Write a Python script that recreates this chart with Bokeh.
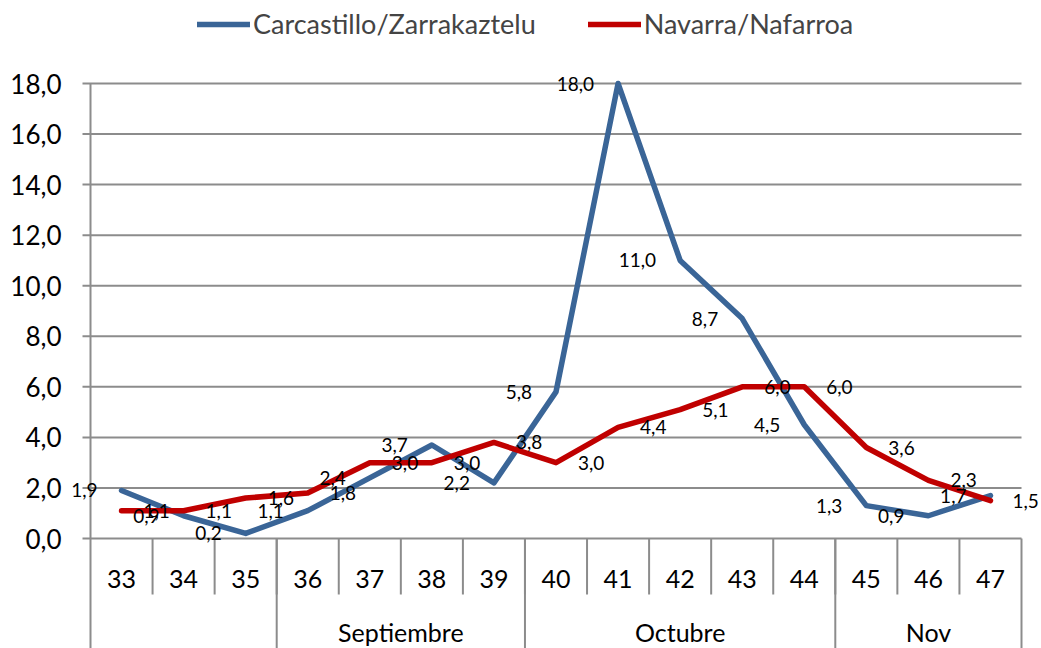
from bokeh.plotting import figure
from bokeh.models import ColumnDataSource, Range1d, FixedTicker, Legend, LegendItem
from bokeh.core.properties import value
from bokeh.embed import file_html
from bokeh.resources import INLINE

# ---------------- data ----------------
weeks = ["33", "34", "35", "36", "37", "38", "39", "40", "41", "42", "43", "44", "45", "46", "47"]
carcastillo = [1.9, 0.9, 0.2, 1.1, 2.4, 3.7, 2.2, 5.8, 18.0, 11.0, 8.7, 4.5, 1.3, 0.9, 1.7]
navarra = [1.1, 1.1, 1.6, 1.8, 3.0, 3.0, 3.8, 3.0, 4.4, 5.1, 6.0, 6.0, 3.6, 2.3, 1.5]
groups = ["", "Septiembre", "Octubre", "Nov"]
group_sizes = [3, 4, 5, 3]
y_ticks = [0, 2, 4, 6, 8, 10, 12, 14, 16, 18]
y_tick_labels = ["0,0", "2,0", "4,0", "6,0", "8,0", "10,0", "12,0", "14,0", "16,0", "18,0"]
series_names = ["Carcastillo/Zarrakaztelu", "Navarra/Nafarroa"]

# ---------------- layout (canvas pixels) ----------------
W, H = 1041, 648
FRAME_L = 70          # frame left edge
X0_PX, X1_PX = 90, 1021   # x=0 and x=n positions
Y0_PX, YT_PX = 538, 83    # y=0 and y=18 positions
CAT_LABEL_PX = 578
DIV1_PX = 594
GROUP_LABEL_PX = 631
TICK_OUT = 8

n = len(weeks)
ppx = (X1_PX - X0_PX) / n
ppy = (Y0_PX - YT_PX) / (y_ticks[-1] - y_ticks[0])
x_start = -(X0_PX - FRAME_L) / ppx
x_end = n + (W - X1_PX) / ppx
y_end = y_ticks[-1] + YT_PX / ppy
y_start = -(H - Y0_PX) / ppy

def ydown(px):
    return -(px - Y0_PX) / ppy

BLUE = "#3A6597"
RED = "#C00000"
GRID = "#8C8C8C"
FONT = "Lato"

p = figure(width=W, height=H, output_backend="svg", toolbar_location=None,
           x_range=Range1d(x_start, x_end), y_range=Range1d(y_start, y_end),
           min_border_left=FRAME_L, min_border_right=0, min_border_top=0, min_border_bottom=0)
p.outline_line_color = None
p.xaxis.visible = False
p.xgrid.visible = False
p.ygrid.visible = False
p.background_fill_color = "white"
p.border_fill_color = "white"

# y axis labels
p.yaxis.ticker = FixedTicker(ticks=y_ticks)
p.yaxis.major_label_overrides = {t: l for t, l in zip(y_ticks, y_tick_labels)}
p.yaxis.axis_line_color = None
p.yaxis.major_tick_line_color = None
p.yaxis.minor_tick_line_color = None
p.yaxis.major_tick_out = 0
p.yaxis.major_tick_in = 0
p.yaxis.major_label_standoff = 9
p.yaxis.major_label_text_font = FONT
p.yaxis.major_label_text_font_size = "26px"
p.yaxis.major_label_text_color = "black"

# gridlines with outside tick
tick_x = -TICK_OUT / ppx
p.segment(x0=[tick_x] * len(y_ticks), y0=y_ticks, x1=[n] * len(y_ticks), y1=y_ticks,
          line_color=GRID, line_width=2)
# y axis line
p.segment(x0=[0], y0=[0], x1=[0], y1=[y_ticks[-1]], line_color=GRID, line_width=2)

# category dividers (level 1)
inner = list(range(1, n))
p.segment(x0=inner, y0=[0] * len(inner), x1=inner, y1=[ydown(DIV1_PX)] * len(inner),
          line_color=GRID, line_width=2)
# group dividers (full height)
bounds = [0]
for s in group_sizes:
    bounds.append(bounds[-1] + s)
p.segment(x0=bounds, y0=[0] * len(bounds), x1=bounds, y1=[y_start] * len(bounds),
          line_color=GRID, line_width=2)

# category labels
xs = [i + 0.5 for i in range(n)]
p.text(x=xs, y=[ydown(CAT_LABEL_PX)] * n, text=weeks, text_align="center",
       text_baseline="middle", text_font=value(FONT), text_font_size="25px", text_color="black")
# group labels
gx = [(bounds[i] + bounds[i + 1]) / 2 for i in range(len(groups))]
p.text(x=gx, y=[ydown(GROUP_LABEL_PX)] * len(groups), text=groups, text_align="center",
       text_baseline="middle", text_font=value(FONT), text_font_size="25px", text_color="black")

# series
src = ColumnDataSource(dict(
    x=xs, c=carcastillo, nv=navarra,
    cl=[f"{v:.1f}".replace(".", ",") for v in carcastillo],
    nl=[f"{v:.1f}".replace(".", ",") for v in navarra],
))
r1 = p.line("x", "c", source=src, line_color=BLUE, line_width=5.5, line_join="round", line_cap="round")
r2 = p.line("x", "nv", source=src, line_color=RED, line_width=5.5, line_join="round", line_cap="round")

p.text(x="x", y="c", text="cl", source=src, x_offset=-24, text_align="right",
       text_baseline="middle", text_font=value(FONT), text_font_size="19px", text_color="black")
p.text(x="x", y="nv", text="nl", source=src, x_offset=22, text_align="left",
       text_baseline="middle", text_font=value(FONT), text_font_size="19px", text_color="black")

legend = Legend(items=[LegendItem(label=series_names[0], renderers=[r1]),
                       LegendItem(label=series_names[1], renderers=[r2])],
                orientation="horizontal", location=(127, 608),
                padding=0, margin=0, spacing=52, label_standoff=3,
                glyph_width=53, glyph_height=30, label_height=30,
                label_text_font=FONT, label_text_font_size="27px",
                background_fill_alpha=0, border_line_color=None)
p.add_layout(legend)

open("out.html", "w").write(file_html(p, INLINE))
